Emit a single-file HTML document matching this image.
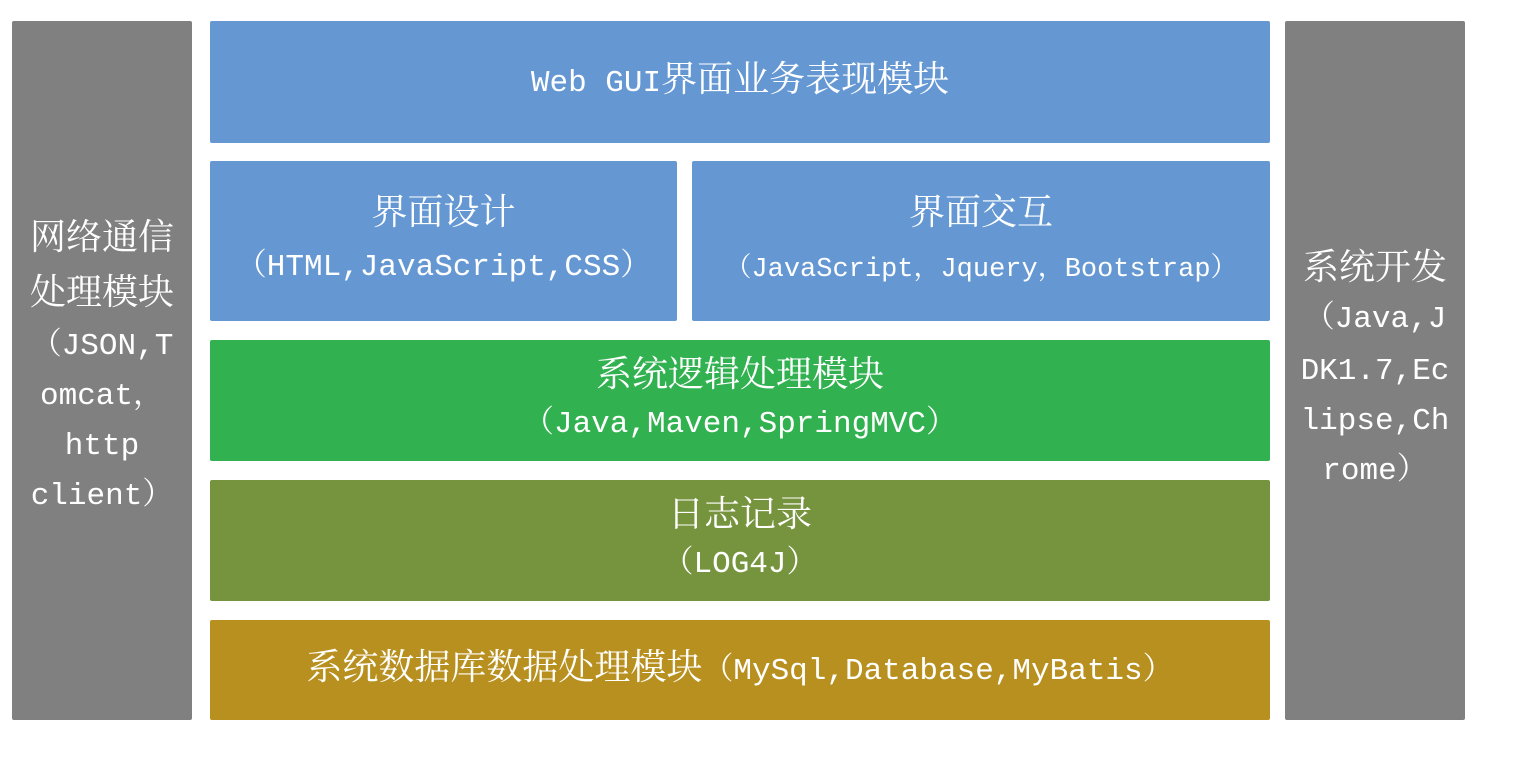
<!DOCTYPE html>
<html><head><meta charset="utf-8"><style>
body{margin:0;width:1531px;height:774px;background:#fff;position:relative;overflow:hidden;
font-family:"Liberation Mono","Noto Serif CJK SC",monospace;color:#fff}
.b{position:absolute;border-radius:2px}
.g{background:#808080}
.bl{background:#6598d3}
.gr{background:#32b150}
.ol{background:#76943e}
.go{background:#b8901f}
.l{position:absolute;left:0;right:0;text-align:center;white-space:nowrap;height:50px;line-height:50px}
.c{font-size:36px}
.s{font-size:31px}
</style></head><body>
<div class="b g" style="left:12px;top:21px;width:180px;height:699px">
<div class="l c" style="top:194px">网络通信</div>
<div class="l c" style="top:249px">处理模块</div>
<div class="l s" style="top:301px">（JSON,T</div>
<div class="l s" style="top:351px">omcat，</div>
<div class="l s" style="top:401px">http</div>
<div class="l s" style="top:451px">client）</div>
</div>
<div class="b bl" style="left:210px;top:21px;width:1060px;height:122px">
<div class="l c" style="top:36px"><span class="s">Web GUI</span>界面业务表现模块</div></div>
<div class="b bl" style="left:210px;top:161px;width:467px;height:160px">
<div class="l c" style="top:29px">界面设计</div>
<div class="l s" style="top:82px">（HTML,JavaScript,CSS）</div></div>
<div class="b bl" style="left:692px;top:161px;width:578px;height:160px">
<div class="l c" style="top:29px">界面交互</div>
<div class="l" style="top:84px;font-size:27px">（JavaScript，Jquery，Bootstrap）</div></div>
<div class="b gr" style="left:210px;top:340px;width:1060px;height:121px">
<div class="l c" style="top:12px">系统逻辑处理模块</div>
<div class="l s" style="top:60px">（Java,Maven,SpringMVC）</div></div>
<div class="b ol" style="left:210px;top:480px;width:1060px;height:121px">
<div class="l c" style="top:12px">日志记录</div>
<div class="l s" style="top:60px">（LOG4J）</div></div>
<div class="b go" style="left:210px;top:620px;width:1060px;height:100px">
<div class="l c" style="top:25px">系统数据库数据处理模块<span class="s">（MySql,Database,MyBatis）</span></div></div>
<div class="b g" style="left:1285px;top:21px;width:180px;height:699px">
<div class="l c" style="top:224px">系统开发</div>
<div class="l s" style="top:274px">（Java,J</div>
<div class="l s" style="top:326px">DK1.7,Ec</div>
<div class="l s" style="top:376px">lipse,Ch</div>
<div class="l s" style="top:426px">rome）</div>
</div>
</body></html>
